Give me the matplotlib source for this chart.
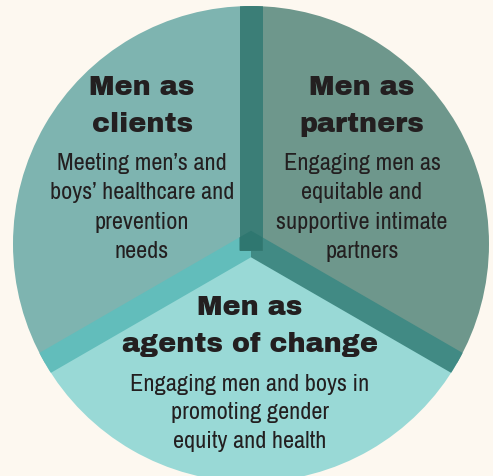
import matplotlib.pyplot as plt
import matplotlib.patches as mpatches
import numpy as np

# данные: три равные доли круга
segments = ['clients', 'agents', 'partners']
shares = [1, 1, 1]
sector_colors = ['#7eb4b0', '#99d9d6', '#6e978c']

headings = {
    'clients': ['Men as', 'clients'],
    'partners': ['Men as', 'partners'],
    'agents': ['Men as', 'agents of change'],
}
captions = {
    'clients': ['Meeting men\u2019s and', 'boys\u2019 healthcare and', 'prevention', 'needs'],
    'partners': ['Engaging men as', 'equitable and', 'supportive intimate', 'partners'],
    'agents': ['Engaging men and boys in', 'promoting gender', 'equity and health'],
}

W, H = 493, 477
bg = '#fdf8f0'
ink = '#231f20'

fig = plt.figure(figsize=(W / 100, H / 100), dpi=100, facecolor=bg)
ax = fig.add_axes([0, 0, 1, 1])
ax.set_facecolor(bg)

cx, cy, R = 251, H - 245, 238  # центр и радиус круга (в пикселях)

wedges, _ = ax.pie(shares, colors=sector_colors, startangle=90, counterclock=True,
                   radius=R, center=(cx, cy), frame=True,
                   wedgeprops=dict(linewidth=0))

clip = mpatches.Circle((cx, cy), R, transform=ax.transData)

# полосы-разделители
h = 11.5
k = h / np.cos(np.radians(30))
L = R + 40
up_y = cy + k
lo_y = cy - k

def band(dx):
    d = np.array([dx * np.cos(np.radians(30)), -0.5])
    p1 = np.array([cx, up_y])
    p4 = np.array([cx, lo_y])
    return [p1, p1 + L * d, p4 + L * d, p4]

left_band = mpatches.Polygon(band(-1), closed=True, color='#62bdbb', lw=0)
right_band = mpatches.Polygon(band(1), closed=True, color='#418a84', lw=0)
vert_band = mpatches.Polygon([(cx - h, cy - 6.6), (cx + h, cy - 6.6),
                              (cx + h, cy + R + 10), (cx - h, cy + R + 10)],
                             closed=True, color='#3b7e77', lw=0)
overlap = mpatches.Polygon([(cx - h, cy - 6.6), (cx + h, cy - 6.6),
                            (cx + h, up_y - h * np.tan(np.radians(30))),
                            (cx, up_y),
                            (cx - h, up_y - h * np.tan(np.radians(30)))],
                           closed=True, color='#2f7770', lw=0)
for p in [left_band, right_band, vert_band, overlap]:
    ax.add_patch(p)
    p.set_clip_path(clip)

# подписи
head_font = dict(family=['Archivo Black', 'DejaVu Sans'],
                 fontsize=19.5, color=ink, ha='center', va='baseline')
body_font = dict(family=['Archivo Narrow', 'DejaVu Sans'], fontsize=17.5,
                 color=ink, ha='center', va='baseline')

text_pos = {
    'clients': (142, [95, 132], [170, 199, 229, 258]),
    'partners': (362, [95, 132], [170, 199, 229, 258]),
    'agents': (250, [315, 352], [391, 419, 448]),
}
for name in segments:
    x, head_ys, body_ys = text_pos[name]
    for line, y in zip(headings[name], head_ys):
        ax.text(x, H - y, line, **head_font)
    for line, y in zip(captions[name], body_ys):
        ax.text(x, H - y, line, **body_font)

ax.set_xlim(0, W)
ax.set_ylim(0, H)
ax.set_aspect('equal')
ax.axis('off')

plt.savefig('out.png', dpi=100, facecolor=bg)
